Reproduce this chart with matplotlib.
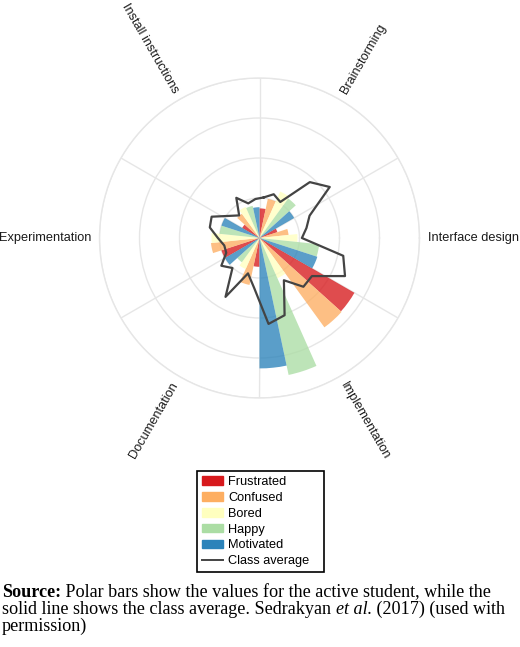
import numpy as np
import matplotlib
matplotlib.use("Agg")
import matplotlib.pyplot as plt
from matplotlib.patches import Patch
from matplotlib.lines import Line2D

plt.rcParams['font.family'] = ['Liberation Sans', 'DejaVu Sans']

categories = ["Brainstorming", "Interface design", "Implementation",
              "Documentation", "Experimentation", "Install instructions"]
emotions = ["Frustrated", "Confused", "Bored", "Happy", "Motivated"]
colors = ["#d7191c", "#fdae61", "#ffffbf", "#abdda4", "#2b83ba"]

# active student, one value per category
frustrated = [0.74, 0.47, 2.74, 0.72, 1.00, 0.50]
confused = [1.00, 0.73, 2.76, 1.20, 1.22, 0.75]
bored = [1.27, 0.95, 1.10, 0.85, 1.20, 0.85]
happy = [1.22, 1.50, 3.50, 0.75, 1.00, 0.82]
motivated = [1.00, 1.52, 3.26, 1.00, 1.00, 0.77]

# class average, one value per category
avg_frustrated = [1.02, 1.37, 1.62, 1.26, 0.91, 0.94]
avg_confused = [1.15, 1.20, 1.64, 0.93, 0.90, 0.76]
avg_bored = [1.04, 1.06, 1.22, 1.70, 1.04, 1.16]
avg_happy = [1.88, 2.14, 2.03, 1.01, 1.27, 0.91]
avg_motivated = [2.17, 2.34, 2.16, 1.18, 1.31, 0.98]

student = [frustrated, confused, bored, happy, motivated]
average = [avg_frustrated, avg_confused, avg_bored, avg_happy, avg_motivated]

W, H = 520, 647
fig = plt.figure(figsize=(W / 100, H / 100), dpi=100)
cx, cy, R = 259.5, 238, 160
ax = fig.add_axes([(cx - R) / W, (H - cy - R) / H, 2 * R / W, 2 * R / H],
                  projection='polar')

n_cat = len(categories)
n_emo = len(emotions)
sector = 360 / n_cat
step = sector / n_emo

# bars: clockwise from the top, each sector holds the five emotions
for e in range(n_emo):
    th = [np.deg2rad(90 - sector * c - step * (e + 0.5)) for c in range(n_cat)]
    ax.bar(th, student[e], width=np.deg2rad(step), color=colors[e],
           alpha=0.78, linewidth=0, zorder=2)

# class average polygon
th_avg, r_avg = [], []
for c in range(n_cat):
    for e in range(n_emo):
        th_avg.append(np.deg2rad(90 - sector * c - step * (e + 0.5)))
        r_avg.append(average[e][c])
th_avg.append(th_avg[0])
r_avg.append(r_avg[0])
ax.plot(th_avg, r_avg, color='#444444', lw=1.6, zorder=3)

ax.set_ylim(0, 4)
ax.set_rgrids([1, 2, 3, 4], labels=[])
ax.set_thetagrids([30, 90, 150, 210, 270, 330], labels=[])
ax.grid(color='#e6e6e6', lw=1.0)
ax.spines['polar'].set_color('#e6e6e6')
ax.spines['polar'].set_linewidth(1.0)
ax.set_axisbelow(True)

# category labels around the circle
for c, name in enumerate(categories):
    ang = 90 - sector * c - sector / 2
    a = (ang + 180) % 360 - 180
    if -90 < a < 90:
        rot, ha = a, 'left'
    else:
        rot, ha = a - 180 if a > 0 else a + 180, 'right'
    if abs(a) < 1:
        rot = 0
    ax.text(np.deg2rad(ang), 4.2, name, rotation=rot, ha=ha, va='center',
            rotation_mode='anchor', fontsize=9.2, color='#1a1a1a')

handles = [Patch(facecolor=col, edgecolor=col) for col in colors]
handles.append(Line2D([0], [0], color='#444444', lw=1.4))
leg = fig.legend(handles, emotions + ["Class average"], loc='upper left',
                 bbox_to_anchor=(197 / W, 1 - 471 / H - 0.01, 127 / W, 0.01),
                 mode='expand', borderaxespad=0, fontsize=9.2,
                 handlelength=1.6, handleheight=0.65, handletextpad=0.45,
                 labelspacing=0.3, borderpad=0.4, fancybox=False,
                 framealpha=1)
leg.get_frame().set_edgecolor('black')
leg.get_frame().set_linewidth(1.2)

# caption with mixed styles
fig.canvas.draw()
renderer = fig.canvas.get_renderer()


def put_line(y, pieces, size=13.1):
    x = 2 / W
    for s, kw in pieces:
        t = fig.text(x, 1 - y / H, s, fontsize=size, va='baseline',
                     family='Liberation Serif', **kw)
        x += t.get_window_extent(renderer).width / W


put_line(597, [("Source:", dict(weight='bold')),
               (" Polar bars show the values for the active student, while the", {})])
put_line(614, [("solid line shows the class average. Sedrakyan ", {}),
               ("et al.", dict(style='italic')),
               (" (2017) (used with", {})])
put_line(631, [("permission)", {})])

fig.savefig("out.png", dpi=100)
